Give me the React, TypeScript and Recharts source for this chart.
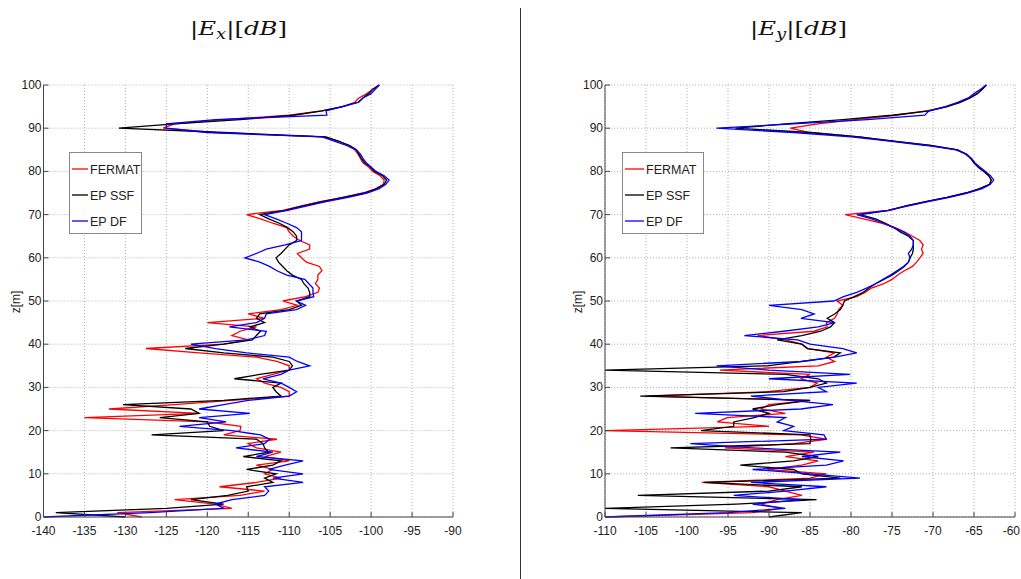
import { LineChart, Line, XAxis, YAxis, CartesianGrid } from "recharts";

// sampling depth in metres (one value per metre)
const depth = Array.from({ length: 101 }, (_, i) => i);

const zTicks = [0, 10, 20, 30, 40, 50, 60, 70, 80, 90, 100];
const exTicks = [-140, -135, -130, -125, -120, -115, -110, -105, -100, -95, -90];
const eyTicks = [-110, -105, -100, -95, -90, -85, -80, -75, -70, -65, -60];

// |Ex| [dB]
const exFermat = [
  -128, -131, -117, -119, -124, -116, -113, -118.5, -114, -111,
  -113, -112, -114, -110, -113, -111, -114, -115, -111.5, -118,
  -116, -115.9, -120, -135, -121, -132, -124, -117, -110, -110,
  -111, -113, -114, -112, -110, -110, -111.5, -114, -121, -127.5,
  -118, -115, -117, -116, -114, -120, -113, -115, -111, -109,
  -110.8, -108, -106.5, -106.3, -106.8, -106.5, -106.5, -106, -106.3, -107.9,
  -108.5, -109, -107.5, -107.5, -108.7, -109.5, -110, -110.3, -112, -113.5,
  -115.2, -110.8, -108.5, -106.2, -103.5, -101, -99.4, -98.5, -98.4, -98.9,
  -99.8, -100.3, -101, -101.3, -101.6, -102, -102.8, -104, -105.8, -119,
  -125.4, -124, -118, -110, -106, -103.5, -102, -101.5, -100.5, -99.8,
  -99,
];
const exSsf = [
  -130, -138.5, -125, -118, -122, -117.5, -115, -115.2, -112, -113,
  -111.6, -115.2, -112, -111, -115.6, -112.5, -113, -113.2, -114, -126.8,
  -118, -119.7, -120, -125.8, -121, -122, -130.3, -118, -111, -111.6,
  -112, -111, -116.7, -113.6, -110, -109.6, -110, -112, -118, -122.7,
  -118, -114.5, -114, -113.5, -114.8, -113, -114, -113.6, -110, -108.5,
  -109.1, -107.5, -107.5, -107.7, -108.2, -108.5, -109.6, -110.3, -110.8, -111.3,
  -111.6, -111, -110.5, -110, -109.1, -109.1, -109.5, -110.2, -111.2, -112.5,
  -113.6, -110.5, -108.3, -106, -103.3, -100.8, -99.3, -98.4, -98.1, -98.6,
  -99.6, -100.1, -100.8, -101.2, -101.5, -101.8, -102.6, -104, -105.5, -118,
  -130.8, -124, -116, -109.5, -106, -103.5, -101.6, -101, -100.3, -99.8,
  -99,
];
const exDf = [
  -140, -127, -118, -119, -117, -113, -112.5, -113, -108.3, -112,
  -108.3, -112.5, -110.5, -108.3, -114, -112, -116.5, -113, -112.4, -113.5,
  -117, -123.4, -117.7, -121, -114.8, -121, -118, -115, -110, -109.1,
  -110, -111, -113.2, -111, -110, -107.5, -109, -110, -115.2, -119,
  -122, -115.2, -113, -112.8, -117.3, -114, -113, -112.8, -109.1, -108,
  -109.1, -107, -107.1, -107.1, -107.6, -108.1, -110.3, -111.5, -112.4, -113.6,
  -115.4, -114, -112.8, -110.5, -108.5, -108.5, -108.5, -109.1, -110.3, -111.6,
  -113, -110.2, -107.8, -105.5, -102.8, -100.5, -99, -98.2, -97.8, -98.4,
  -99.4, -100, -100.6, -101, -101.3, -101.8, -103, -104.5, -106, -120,
  -125, -125, -119, -105.4, -105.5, -103.5, -101.5, -101, -100, -99.5,
  -99,
];

// |Ey| [dB]
const eyFermat = [
  -110, -92, -88.6, -91, -89, -86, -88, -90, -98.2, -85,
  -83, -90.2, -86, -84, -88, -84.5, -95.4, -87, -83, -86.1,
  -110, -90, -96.3, -95.1, -88, -91, -90, -85, -104.9, -90.2,
  -85, -84.1, -86.1, -85, -96, -84, -82, -83, -82, -85.3,
  -86, -88, -91.4, -84.5, -82.9, -83, -82, -81.7, -81.5, -81,
  -81.7, -79.3, -78.3, -77.5, -76, -75, -74.3, -73.5, -72.5, -72,
  -71.6, -71.2, -71.4, -71.2, -71.6, -72.5, -73.5, -74.6, -76.3, -78.5,
  -80.7, -75.5, -73.3, -70.9, -68.3, -66, -64.3, -63.1, -62.9, -63.2,
  -63.8, -64.5, -65, -65.4, -66, -67, -70.3, -74.8, -79, -85,
  -87.4, -84, -79.5, -74.5, -70.8, -68.3, -66.7, -65.5, -64.6, -64,
  -63.5,
];
const eySsf = [
  -90, -86, -110, -94, -84.2, -106, -90, -86, -97.9, -81.3,
  -86, -87, -93.5, -87, -84, -88, -102, -85, -84.9, -85,
  -98.3, -94.3, -94.3, -91.8, -90, -92, -89, -85, -105.7, -88.2,
  -85, -83, -84, -88, -110, -90.2, -86, -82.1, -81.3, -85.3,
  -86, -89, -86, -83.7, -82.5, -82, -82.9, -82, -81.3, -81,
  -80.8, -79.6, -78.5, -77.8, -77, -76, -75, -74.2, -73.5, -73,
  -72.8, -72.5, -72.4, -72.4, -72.4, -73, -74, -74.8, -75.8, -77,
  -78.9, -75.3, -73.3, -70.9, -68.3, -66, -64.3, -63.1, -62.9, -63.2,
  -63.8, -64.5, -65, -65.4, -66, -67, -70.3, -74.8, -79, -85,
  -94.1, -88, -81, -75, -70.4, -68.3, -66.7, -65.5, -64.6, -64,
  -63.5,
];
const eyDf = [
  -110, -95, -88, -92, -86, -94.3, -88, -83, -92.2, -78.9,
  -85, -92, -83, -80.9, -86, -81.3, -92, -99.6, -83, -83.3,
  -88.2, -87, -89, -88, -99, -86.1, -82.2, -87.4, -92.2, -83,
  -84, -79.3, -90, -80.1, -90, -96.4, -86, -82, -79.3, -81,
  -85, -86.5, -93, -88.2, -84, -82, -86.1, -84.5, -86, -90,
  -82.1, -80.9, -79.3, -78.1, -77, -76.1, -75.2, -74.4, -73.6, -73,
  -72.8, -73, -72.6, -72.4, -72.4, -72.8, -73.6, -74.8, -76, -77.5,
  -79.3, -75.5, -73, -70.6, -68, -65.8, -64, -63, -62.6, -63,
  -63.6, -64.3, -64.9, -65.3, -65.9, -67.2, -70.8, -75.3, -80, -87,
  -96.4, -87, -78, -71, -70.5, -68.5, -67, -65.7, -65, -64.2,
  -63.5,
];

const seriesNames = ["FERMAT", "EP SSF", "EP DF"];
const COLORS = ["#ff0000", "#000000", "#0000ff"];

const AXIS = "#444";
const TICK_FONT = "'Liberation Sans Narrow', 'Liberation Sans', Arial, sans-serif";

type Row = { z: number; fermat: number; ssf: number; df: number };

function buildRows(fermat: number[], ssf: number[], df: number[]): Row[] {
  return depth.map((z, i) => ({ z, fermat: fermat[i], ssf: ssf[i], df: df[i] }));
}

const exRows = buildRows(exFermat, exSsf, exDf);
const eyRows = buildRows(eyFermat, eySsf, eyDf);

function LeftTick(props: any) {
  const { x, y, payload } = props;
  return (
    <g>
      <line x1={x} x2={x + 5} y1={y} y2={y} stroke={AXIS} />
      <text x={x - 2} y={y + 4} textAnchor="end" fontSize={12} fontFamily={TICK_FONT} fill="#222">
        {payload.value}
      </text>
    </g>
  );
}

function BottomTick(props: any) {
  const { x, y, payload, edge } = props;
  // the last label of the right panel sits against the page edge
  const atEdge = edge !== undefined && payload.value === edge;
  return (
    <g>
      <line x1={x} x2={x} y1={y} y2={y - 5} stroke={AXIS} />
      <text
        x={atEdge ? x + 5 : x}
        y={y + 18}
        textAnchor={atEdge ? "end" : "middle"}
        fontSize={12}
        fontFamily={TICK_FONT}
        fill="#222"
      >
        {payload.value}
      </text>
    </g>
  );
}

type PanelProps = {
  left: number;
  rows: Row[];
  domain: [number, number];
  ticks: number[];
  marginLeft: number;
  marginRight: number;
  edge?: number;
};

function Panel({ left, rows, domain, ticks, marginLeft, marginRight, edge }: PanelProps) {
  return (
    <div style={{ position: "absolute", left, top: 0, width: 470, height: 545 }}>
      <LineChart
        width={470}
        height={545}
        layout="vertical"
        data={rows}
        margin={{ top: 85, right: marginRight, bottom: 0, left: marginLeft }}
      >
        <CartesianGrid stroke="#b0b0b0" strokeDasharray="1 2" />
        <XAxis
          type="number"
          domain={domain}
          ticks={ticks}
          interval={0}
          allowDataOverflow
          height={28}
          tickSize={0}
          tickMargin={0}
          axisLine={{ stroke: AXIS }}
          tick={<BottomTick edge={edge} />}
        />
        <YAxis
          type="number"
          dataKey="z"
          domain={[0, 100]}
          ticks={zTicks}
          interval={0}
          reversed
          width={30}
          tickSize={0}
          tickMargin={0}
          axisLine={{ stroke: AXIS }}
          tick={<LeftTick />}
        />
        <Line dataKey="fermat" stroke={COLORS[0]} strokeWidth={1.3} dot={false} isAnimationActive={false} />
        <Line dataKey="ssf" stroke={COLORS[1]} strokeWidth={1.3} dot={false} isAnimationActive={false} />
        <Line dataKey="df" stroke={COLORS[2]} strokeWidth={1.3} dot={false} isAnimationActive={false} />
      </LineChart>
    </div>
  );
}

function LegendBox({ x, y, w, textOffset }: { x: number; y: number; w: number; textOffset: number }) {
  return (
    <g>
      <rect x={x + 0.5} y={y + 0.5} width={w} height={81} fill="#fff" stroke="#888" />
      {seriesNames.map((name, i) => (
        <g key={name}>
          <line x1={x + 3} x2={x + textOffset - 2} y1={y + 17 + i * 26} y2={y + 17 + i * 26} stroke={COLORS[i]} strokeWidth={1.3} />
          <text x={x + textOffset} y={y + 22 + i * 26} fontSize={12.5} fontFamily={TICK_FONT} fill="#222">
            {name}
          </text>
        </g>
      ))}
    </g>
  );
}

function Title({ x, sub }: { x: number; sub: string }) {
  return (
    <text x={x} y={35} textLength={97} lengthAdjust="spacingAndGlyphs" fontSize={19} fontFamily="'DejaVu Serif', serif" fill="#111">
      <tspan>|</tspan>
      <tspan fontStyle="italic">E</tspan>
      <tspan fontStyle="italic" fontSize={14} dy={4}>{sub}</tspan>
      <tspan dy={-4}>|[</tspan>
      <tspan fontStyle="italic">dB</tspan>
      <tspan>]</tspan>
    </text>
  );
}

export default function App() {
  return (
    <div style={{ position: "absolute", left: 0, top: 0, width: 1021, height: 579, background: "#fff", overflow: "hidden" }}>
      <Panel left={0} rows={exRows} domain={[-140, -90]} ticks={exTicks} marginLeft={13.5} marginRight={17} />
      <Panel left={560} rows={eyRows} domain={[-110, -60]} ticks={eyTicks} marginLeft={15} marginRight={15} edge={-60} />
      <svg width={1021} height={579} style={{ position: "absolute", left: 0, top: 0, pointerEvents: "none" }}>
        <Title x={190} sub="x" />
        <Title x={750} sub="y" />
        <line x1={520.5} x2={520.5} y1={8} y2={579} stroke="#333" />
        <text transform="translate(20,302) rotate(-90)" textAnchor="middle" fontSize={12} fontFamily={TICK_FONT} fill="#222">
          z[m]
        </text>
        <text transform="translate(582,302) rotate(-90)" textAnchor="middle" fontSize={12} fontFamily={TICK_FONT} fill="#222">
          z[m]
        </text>
        <LegendBox x={69} y={152} w={72} textOffset={21} />
        <LegendBox x={622} y={152} w={81} textOffset={24} />
      </svg>
    </div>
  );
}
